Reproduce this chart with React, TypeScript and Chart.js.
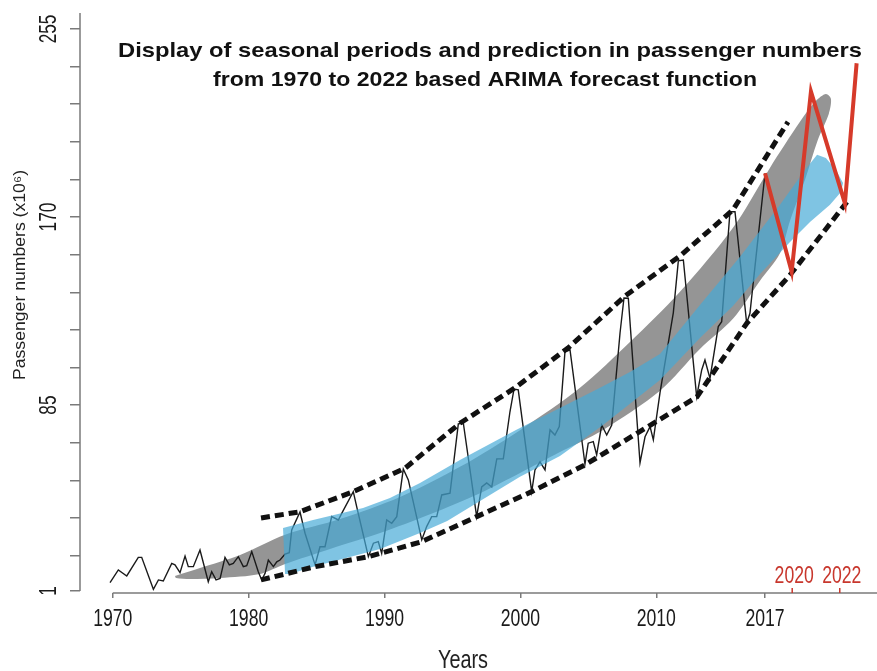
import React, { useEffect, useRef } from 'react';
import { Chart, registerables } from 'chart.js';

Chart.register(...registerables);

// ---------- data (x = position on the year axis, y = passengers x10^6) ----------
const observedYears = [
  1969.8, 1970.41, 1971.03, 1971.88, 1972.13, 1972.99, 1973.36, 1973.72, 1974.34, 1974.58,
  1974.95, 1975.32, 1975.56, 1975.93, 1976.42, 1977.03, 1977.28, 1977.6, 1977.9, 1978.26,
  1978.58, 1978.87, 1979.24, 1979.61, 1979.86, 1980.23, 1980.71, 1980.96, 1981.21, 1981.45,
  1981.82, 1982.07, 1982.31, 1982.68, 1982.99, 1983.17, 1983.78, 1984.15, 1984.89, 1985.25,
  1985.62, 1986.11, 1986.6, 1986.85, 1987.7, 1987.95, 1988.81, 1989.18, 1989.54, 1989.79,
  1990.16, 1990.53, 1990.9, 1991.38, 1991.75, 1992.74, 1993.1, 1993.47, 1993.84, 1994.21,
  1994.82, 1995.43, 1995.8, 1996.78, 1997.15, 1997.52, 1997.89, 1998.26, 1998.74, 1999.23,
  1999.53, 1999.84, 2000.83, 2001.07, 2001.44, 2001.81, 2002.18, 2002.54, 2002.86, 2003.28,
  2003.65, 2004.75, 2004.99, 2005.36, 2005.61, 2005.98, 2006.35, 2006.72, 2007.33, 2007.62,
  2007.94, 2008.8, 2009.17, 2009.54, 2009.78, 2010.27, 2011.25, 2011.62, 2011.99, 2012.97,
  2013.34, 2013.58, 2013.95, 2014.56, 2014.81, 2015.42, 2015.79, 2016.65, 2016.89, 2018.0,
];
const observedPassengers = [
  4.8, 10.5, 7.8, 16.2, 16.2, 1.8, 6.0, 5.5, 13.5, 12.8,
  9.3, 16.8, 12.0, 12.0, 19.5, 5.2, 9.7, 6.0, 6.7, 16.2,
  12.8, 13.5, 16.5, 12.0, 12.4, 18.8, 9.7, 6.0, 9.0, 15.0,
  12.0, 14.2, 15.0, 17.7, 18.3, 28.6, 36.7, 27.1, 12.8, 21.0,
  21.0, 34.6, 33.1, 36.1, 45.9, 39.1, 16.5, 22.6, 23.3, 18.0,
  33.1, 31.6, 34.6, 56.1, 51.2, 24.1, 30.1, 34.6, 34.6, 44.4,
  45.2, 76.5, 76.8, 34.6, 48.0, 49.8, 48.0, 60.7, 60.7, 82.0,
  92.3, 91.9, 45.9, 55.7, 59.4, 55.7, 73.8, 71.5, 75.3, 109.2,
  109.9, 58.4, 67.8, 68.5, 62.5, 76.0, 71.5, 76.0, 117.6, 133.4,
  133.3, 58.9, 70.7, 75.3, 69.3, 90.5, 126.7, 150.2, 150.6, 88.8,
  100.9, 105.4, 97.1, 120.5, 122.7, 172.4, 172.4, 122.0, 126.5, 189.8,
];

const forecastYears = [2018.0, 2019.96, 2021.38, 2023.88, 2024.74];
const forecastPassengers = [189.8, 145.3, 226.7, 176.2, 239.5];

const upperEnvelopeYears = [1980.91, 1983.78, 1987.7, 1991.51, 1995.55, 1999.6, 2003.5, 2007.7, 2011.74, 2015.64, 2019.69];
const upperEnvelopeValues = [34.0, 36.8, 45.9, 56.5, 76.8, 92.8, 110.8, 134.3, 152.4, 173.2, 213.0];

const lowerEnvelopeYears = [1980.91, 1984.89, 1988.81, 1992.74, 1996.78, 2000.83, 2004.75, 2012.99, 2016.67, 2019.84, 2024.03];
const lowerEnvelopeValues = [6.0, 12.0, 16.5, 23.3, 34.6, 45.9, 58.0, 88.7, 122.1, 143.8, 176.8];

// seasonal band (gray), traced as a closed outline
const grayBandYears = [
  1974.58, 1976.42, 1979.37, 1982.68, 1986.72, 1991.14, 1995.55, 2000.0, 2004.38, 2008.06,
  2011.74, 2015.64, 2018.36, 2020.57, 2021.75, 2022.48, 2022.85, 2022.69, 2021.89, 2020.94,
  2019.84, 2019.1, 2017.63, 2015.64, 2013.21, 2010.27, 2006.08, 2002.91, 1999.97, 1997.03,
  1993.35, 1989.67, 1985.99, 1982.68, 1980.84, 1977.9, 1975.69, 1974.66, 1974.58,
];
const grayBandValues = [
  7.8, 11.4, 17.3, 26.4, 33.5, 43.5, 57.1, 73.8, 92.8, 113.5,
  136.2, 165.1, 192.2, 213.0, 222.5, 225.6, 223.4, 216.6, 204.9, 186.8,
  168.3, 153.6, 141.2, 124.0, 110.4, 91.5, 73.8, 63.8, 54.3, 45.2,
  35.7, 27.2, 20.0, 13.2, 8.7, 6.9, 6.4, 6.9, 7.8,
];

// prediction band (blue), traced as a closed outline
const blueBandYears = [
  1982.53, 1984.74, 1988.42, 1990.4, 1992.61, 1995.55, 1999.67, 2002.91, 2005.86, 2008.06,
  2010.27, 2013.21, 2016.16, 2019.1, 2020.94, 2021.83, 2022.48, 2023.22, 2023.74, 2023.59,
  2022.78, 2021.31, 2019.84, 2017.63, 2015.64, 2013.21, 2010.27, 2006.08, 2002.91, 1999.97,
  1997.03, 1994.61, 1992.61, 1989.67, 1984.74, 1983.05, 1982.68, 1982.53,
];
const blueBandValues = [
  29.5, 33.1, 38.5, 43.0, 49.8, 60.2, 73.8, 83.7, 92.8, 100.0,
  108.1, 130.3, 152.0, 175.5, 191.3, 198.1, 196.7, 191.3, 185.4, 181.3,
  175.5, 167.8, 158.7, 144.2, 129.8, 115.3, 96.4, 76.0, 62.0, 52.6,
  41.7, 32.6, 27.2, 20.0, 12.0, 8.7, 8.7, 29.5,
];

// axis ticks
const xTickPositions = [1970, 1980, 1990, 2000, 2010, 2018];
const xTickLabels = ['1970', '1980', '1990', '2000', '2010', '2017'];
const forecastTickPositions = [2020, 2023.5];
const forecastTickLabels = ['2020', '2022'];
const yTickValues = [1, 17, 34, 51, 68, 85, 102, 119, 136, 153, 170, 187, 204, 221, 238, 255];
const yLabelValues = [1, 85, 170, 255];

const titleLines = [
  'Display of seasonal periods and prediction in passenger numbers',
  'from 1970 to 2022 based ARIMA forecast function',
];
const xTitle = 'Years';
const yTitle = 'Passenger numbers (x10\u2076)';

// ---------- helpers ----------
const pts = (xs: number[], ys: number[]) => xs.map((x, i) => ({ x, y: ys[i] }));

const SANS = "'Liberation Sans', Arial, Helvetica, sans-serif";
const SQUEEZE = 0.72; // the reference uses a condensed face

function drawText(
  ctx: CanvasRenderingContext2D,
  text: string,
  cx: number,
  cy: number,
  font: string,
  color: string,
  baseline: CanvasTextBaseline,
  opts: { width?: number; squeeze?: number; rotate?: number } = {},
) {
  ctx.save();
  ctx.font = font;
  ctx.fillStyle = color;
  ctx.textAlign = 'center';
  ctx.textBaseline = baseline;
  const w = ctx.measureText(text).width || 1;
  const sx = opts.width ? opts.width / w : opts.squeeze ?? 1;
  ctx.translate(cx, cy);
  if (opts.rotate) ctx.rotate(opts.rotate);
  ctx.scale(sx, 1);
  ctx.fillText(text, 0, 0);
  ctx.restore();
}

const decorPlugin = {
  id: 'decor',
  afterDraw(chart: any) {
    const { ctx, chartArea, scales } = chart;
    const xs = scales.x;
    const ys = scales.y;
    ctx.save();
    // axis lines (detached, R style)
    ctx.strokeStyle = '#7a7a7a';
    ctx.lineWidth = 1.5;
    ctx.beginPath();
    ctx.moveTo(chartArea.left, chartArea.top);
    ctx.lineTo(chartArea.left, ys.getPixelForValue(yTickValues[0]));
    ctx.stroke();
    ctx.beginPath();
    ctx.moveTo(xs.getPixelForValue(xTickPositions[0]), chartArea.bottom);
    ctx.lineTo(chartArea.right, chartArea.bottom);
    ctx.stroke();

    // x tick labels
    xs.ticks.forEach((t: any) => {
      const i = xTickPositions.indexOf(t.value);
      if (i < 0) return;
      drawText(ctx, xTickLabels[i], xs.getPixelForValue(t.value), chartArea.bottom + 33, `24.5px ${SANS}`, '#1a1a1a', 'alphabetic', { squeeze: SQUEEZE });
    });
    // y tick labels (rotated)
    ys.ticks.forEach((t: any) => {
      if (!yLabelValues.includes(t.value)) return;
      drawText(ctx, String(t.value), chartArea.left - 24.5, ys.getPixelForValue(t.value), `24px ${SANS}`, '#1a1a1a', 'alphabetic', { squeeze: SQUEEZE, rotate: -Math.PI / 2 });
    });

    // forecast year ticks (red, pointing inside)
    ctx.strokeStyle = '#c8372d';
    forecastTickPositions.forEach((v, i) => {
      const px = xs.getPixelForValue(v);
      ctx.beginPath();
      ctx.moveTo(px, chartArea.bottom - 5);
      ctx.lineTo(px, chartArea.bottom);
      ctx.stroke();
      drawText(ctx, forecastTickLabels[i], px + 2, chartArea.bottom - 10, `24.5px ${SANS}`, '#c8372d', 'alphabetic', { squeeze: SQUEEZE });
    });
    ctx.restore();

    // title
    drawText(ctx, titleLines[0], 490, 57, `bold 20.5px ${SANS}`, '#111', 'alphabetic', { width: 744 });
    drawText(ctx, titleLines[1], 485, 86, `bold 20.5px ${SANS}`, '#111', 'alphabetic', { width: 544 });
    // axis titles
    drawText(ctx, xTitle, 463, 668, `25.5px ${SANS}`, '#222', 'alphabetic', { width: 50 });
    drawText(ctx, yTitle, 21, 275, `16px ${SANS}`, '#222', 'middle', { width: 210, rotate: -Math.PI / 2 });
  },
};

export default function App() {
  const canvasRef = useRef<HTMLCanvasElement | null>(null);

  useEffect(() => {
    document.body.style.margin = '0';
    const canvas = canvasRef.current;
    if (!canvas) return;

    const lineBase = { pointRadius: 0, pointHoverRadius: 0, tension: 0 };

    const chart = new Chart(canvas, {
      type: 'line',
      data: {
        datasets: [
          {
            ...lineBase,
            label: 'Forecast',
            data: pts(forecastYears, forecastPassengers),
            borderColor: '#d63a2a',
            borderWidth: 4,
            fill: false,
            order: 0,
          },
          {
            ...lineBase,
            label: 'Upper envelope',
            data: pts(upperEnvelopeYears, upperEnvelopeValues),
            borderColor: '#111',
            borderWidth: 5,
            borderDash: [9, 5],
            fill: false,
            order: 1,
          },
          {
            ...lineBase,
            label: 'Lower envelope',
            data: pts(lowerEnvelopeYears, lowerEnvelopeValues),
            borderColor: '#111',
            borderWidth: 5,
            borderDash: [9, 5],
            fill: false,
            order: 1,
          },
          {
            ...lineBase,
            label: 'Prediction band',
            data: pts(blueBandYears, blueBandValues),
            borderWidth: 0,
            borderColor: 'rgba(0,0,0,0)',
            backgroundColor: 'rgba(70,170,215,0.69)',
            fill: 'shape',
            order: 2,
          },
          {
            ...lineBase,
            label: 'Passengers',
            data: pts(observedYears, observedPassengers),
            borderColor: '#1a1a1a',
            borderWidth: 1.4,
            fill: false,
            order: 3,
          },
          {
            ...lineBase,
            label: 'Seasonal band',
            data: pts(grayBandYears, grayBandValues),
            borderWidth: 0,
            borderColor: 'rgba(0,0,0,0)',
            backgroundColor: '#959595',
            fill: 'shape',
            tension: 0.3,
            order: 4,
          },
        ],
      },
      options: {
        animation: false,
        responsive: true,
        maintainAspectRatio: false,
        layout: { padding: { top: 13, left: 0, right: 0, bottom: 0 } },
        plugins: {
          legend: { display: false },
          tooltip: { enabled: false },
          title: { display: false },
        },
        events: [],
        scales: {
          x: {
            type: 'linear',
            min: 1967.59,
            max: 2026.24,
            afterBuildTicks: (scale: any) => {
              scale.ticks = xTickPositions.map((value) => ({ value }));
            },
            afterFit: (scale: any) => {
              scale.height = 78;
            },
            border: { display: false },
            grid: { drawOnChartArea: false, color: '#7a7a7a', lineWidth: 1.5, tickLength: 5 },
            ticks: { display: false, autoSkip: false },
          },
          y: {
            type: 'linear',
            min: 0.096,
            max: 262.2,
            afterBuildTicks: (scale: any) => {
              scale.ticks = yTickValues.map((value) => ({ value }));
            },
            afterFit: (scale: any) => {
              scale.width = 80;
            },
            border: { display: false },
            grid: { drawOnChartArea: false, color: '#7a7a7a', lineWidth: 1.5, tickLength: 10 },
            ticks: { display: false, autoSkip: false },
          },
        },
      } as any,
      plugins: [decorPlugin],
    });

    return () => chart.destroy();
  }, []);

  return (
    <div style={{ width: 877, height: 671, position: 'relative', background: '#fff' }}>
      <canvas ref={canvasRef} />
    </div>
  );
}
